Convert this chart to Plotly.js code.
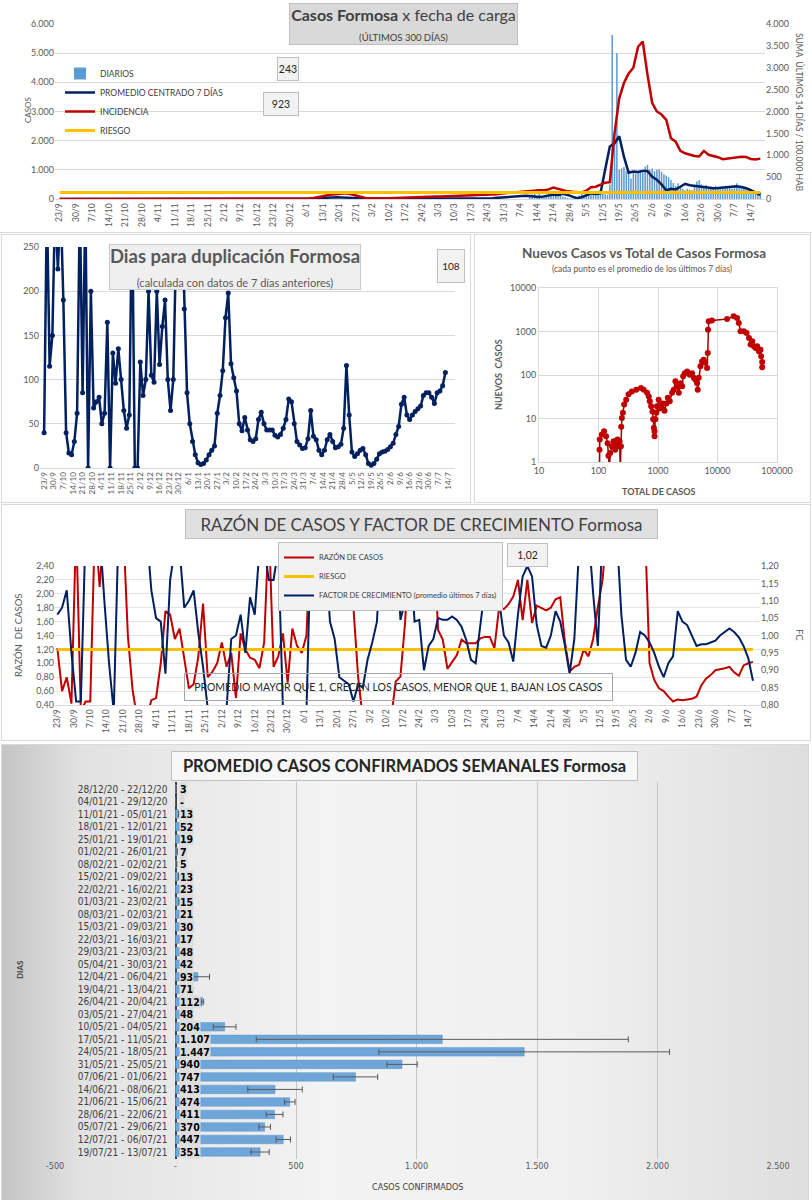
<!DOCTYPE html>
<html><head><meta charset="utf-8">
<script src="https://cdn.plot.ly/plotly-3.0.1.min.js"></script>
<style>
body{margin:0;width:812px;height:1200px;background:#fff;position:relative;overflow:hidden;font-family:Lato,sans-serif}
.p{position:absolute;outline:1px solid #d9d9d9;}
#c1{left:0;top:0;width:812px;height:232px}
#c2{left:2px;top:235px;width:468px;height:267px}
#c3{left:475px;top:235px;width:335px;height:267px}
#c4{left:2px;top:505px;width:808px;height:235px}
#c5{left:2px;top:745px;width:806px;height:455px;background:linear-gradient(90deg,#c4c4c4 0%,#e2e2e2 10%,#f3f3f3 40%,#f0f0f0 70%,#dedede 100%)}
</style></head>
<body>
<div id="c1" class="p"></div>
<div id="c2" class="p"></div>
<div id="c3" class="p"></div>
<div id="c4" class="p"></div>
<div id="c5" class="p"></div>
<script>
// ---------- DATA ----------
// Chart 1: every 2 days from 23/9/2020 (left axis: promedio; right axis: incidencia)
const promedio7 = [0,0,0,0,0,0,0,0,0,0,0,0,0,0,0,0,0,0,0,0,0,0,0,0,0,0,0,0,0,0,0,0,0,0,0,0,0,0,0,0,0,0,0,0,0,0,0,0,0,0,0,0,0,
 5,15,30,40,50,55,60,55,45,30,15,5,5,5,5,5,8,10,10,10,10,12,12,12,15,15,15,15,18,20,20,20,20,20,22,25,25,20,25,30,
 40,50,60,80,100,110,110,100,80,70,90,120,150,130,180,140,80,30,60,130,190,175,190,1000,1800,1910,2150,1450,900,940,
 930,960,960,765,660,500,300,350,330,420,520,470,445,425,410,390,370,380,400,420,440,440,410,370,300,230,140];
const incidencia = [0,0,0,0,0,0,0,0,0,0,0,0,0,0,0,0,0,0,0,0,0,0,0,0,0,0,0,0,0,0,0,0,0,0,0,0,0,0,0,0,0,0,0,0,0,0,0,0,0,0,0,0,0,
 10,25,50,70,85,100,115,125,130,110,80,50,25,15,10,10,15,20,25,30,35,38,40,42,45,50,52,55,58,60,65,70,72,75,80,85,90,92,95,100,
 110,125,135,140,150,165,180,190,195,200,200,220,260,230,205,175,165,155,150,190,270,280,330,373,385,1500,2300,2650,2870,3000,
 3480,3600,2850,2200,2000,1930,1810,1390,1310,1100,1045,1010,985,975,1100,1010,990,955,910,925,935,940,965,960,915,905,923];
// daily cases from 10/4/2021
const diarios = [120,150,300,80,200,100,130,90,150,110,180,100,60,150,90,60,40,30,20,80,
 50,120,200,150,250,180,150,260,200,180,300,250,200,150,500,5620,2300,5000,1000,1050,
 1100,950,1000,700,900,880,950,1000,900,1110,1170,1000,1050,950,1000,1020,940,850,800,750,
 650,550,450,540,420,350,300,350,320,300,450,600,650,500,450,480,400,420,380,450,
 400,380,350,420,380,400,350,420,540,400,380,420,350,300,330,250,200,150,243];
const riesgoIncidencia = 150;

// Chart 2: días para duplicación, every 2 days from 23/9/2020
const diasDuplicacion = [40,300,115,150,300,225,300,190,40,17,15,30,62,300,85,300,0,200,68,75,
 80,50,62,165,0,130,96,135,100,65,45,60,300,0,0,120,82,100,200,105,
 97,200,117,160,190,100,65,100,250,300,300,180,85,50,30,15,6,4,5,9,
 15,20,25,62,82,110,170,198,118,102,87,50,42,57,43,32,30,33,55,63,
 50,43,43,43,37,35,38,45,55,78,75,50,30,26,22,23,33,65,36,32,
 20,15,20,32,38,30,23,24,27,45,116,60,18,13,16,20,22,15,5,3,
 5,10,16,18,19,21,24,28,38,47,72,80,60,55,60,64,67,70,82,85,
 85,80,73,85,87,93,108];

// Chart 3: nuevos casos vs total de casos
const totalCasos = [104,104,105,114,124,134,142,147,153,157,168,179,191,198,209,217,226,233,238,241,
 247,257,270,292,320,363,431,518,575,655,700,728,766,807,830,852,874,874,902,937,
 960,1025,1065,1120,1215,1285,1380,1460,1575,1725,1840,1960,2100,2240,2390,2545,2650,2825,3090,3420,
 3740,3990,4250,4530,4650,4840,5160,5500,5860,6250,6670,6850,6930,7110,8080,14500,18700,21300,22800,24400,
 27700,30800,33800,36000,38400,40900,43600,46500,49600,52800,54200,56300,56300];
const nuevosCasos = [0.5,1.9,3.3,4.3,5.1,3.9,2.7,1.4,0.6,1.6,2.3,3.0,1.9,2.7,3.3,2.3,3.0,0.6,2.3,6.5,
 10.3,13.6,21,27,36,42,46,50,46,39,32,25,19,14.5,9.6,6.1,3.9,5.1,9.6,13.6,
 19,27,17,19,22,15,22,30,25,39,46,72,55,39,65,55,93,110,121,101,
 110,86,78,65,46,86,158,205,225,190,145,320,1100,1710,1800,1940,2230,2050,1570,1010,
 1010,925,710,500,595,460,420,460,350,380,270,200,150];
const xTicksLog = [10,100,1000,10000,100000];
const yTicksLog = [1,10,100,1000,10000];

// Chart 4: razón de casos & factor de crecimiento, every 2 days from 23/9/2020
const razonCasos = [1.22,0.60,0.80,0.42,3.0,0.3,0.45,0.45,3.0,2.1,3.0,3.0,3.0,3.0,3.0,1.4,0.62,0.2,0.2,0.2,
 0.47,0.5,1.0,1.75,1.7,1.35,1.5,1.05,0.64,0.7,1.1,1.86,0.8,0.88,1.0,1.3,0.95,1.15,0.5,1.43,
 1.2,1.08,1.05,0.93,1.3,3.0,0.95,1.1,1.43,0.72,1.5,1.25,1.15,1.4,3.0,3.0,3.0,3.0,3.0,3.0,
 3.0,3.0,3.0,1.8,0.8,0.2,0.2,0.2,0.2,0.2,0.2,0.2,0.74,0.81,1.6,3.0,3.0,3.0,3.0,3.0,
 3.0,1.48,1.34,0.92,1.02,1.12,1.34,1.29,1.29,1.29,1.36,1.38,1.38,1.22,1.81,1.78,1.85,1.96,2.2,1.62,
 2.2,1.58,1.83,1.8,1.76,1.8,1.92,1.95,1.3,0.88,0.95,0.98,1.2,1.1,1.35,1.81,2.2,3.0,3.0,3.0,
 3.0,3.0,3.0,3.0,3.0,3.0,1.0,0.76,0.64,0.6,0.52,0.45,0.48,0.47,0.48,0.49,0.52,0.68,0.78,0.83,
 0.9,0.91,0.93,0.95,0.87,0.82,0.97,1.0,1.02];
const factorCrecimiento = [1.06,1.08,1.13,0.95,0.81,0.81,1.3,1.3,1.3,1.3,1.1,0.92,0.78,1.3,1.3,1.3,1.3,1.3,1.3,1.3,
 1.13,1.05,1.04,0.89,1.16,1.25,1.25,1.08,1.1,1.13,1.006,0.91,0.79,0.78,0.78,0.78,0.79,0.99,1.0,1.06,
 0.95,1.11,1.06,1.25,1.25,1.16,1.16,1.25,0.79,0.78,0.78,0.78,0.78,0.78,1.3,1.3,1.3,1.25,1.04,0.99,
 0.88,0.87,0.86,0.81,0.86,0.85,0.93,0.98,1.04,1.3,1.3,1.3,1.3,1.045,1.1,1.25,1.04,1.045,0.9,0.97,
 0.99,1.05,1.045,1.045,1.055,1.045,1.025,0.987,0.93,0.92,1.03,1.14,1.3,1.2,1.09,1.0,0.98,0.925,1.06,1.17,
 1.2,1.17,1.03,0.97,0.965,1.0,1.07,1.04,0.97,0.89,0.99,1.25,1.3,1.3,1.12,0.97,1.3,1.3,1.3,1.3,
 1.06,0.93,0.91,0.95,1.01,1.0,0.98,0.95,0.91,0.88,0.92,0.94,1.07,1.04,1.03,1.0,0.97,0.975,0.975,0.98,
 0.985,1.0,1.01,1.02,1.01,0.995,0.97,0.935,0.87];
const riesgoRazon = 1.2;

// Chart 5: promedio semanal
const semanas = ["28/12/20 - 22/12/20","04/01/21 - 29/12/20","11/01/21 - 05/01/21","18/01/21 - 12/01/21","25/01/21 - 19/01/21",
 "01/02/21 - 26/01/21","08/02/21 - 02/02/21","15/02/21 - 09/02/21","22/02/21 - 16/02/21","01/03/21 - 23/02/21",
 "08/03/21 - 02/03/21","15/03/21 - 09/03/21","22/03/21 - 16/03/21","29/03/21 - 23/03/21","05/04/21 - 30/03/21",
 "12/04/21 - 06/04/21","19/04/21 - 13/04/21","26/04/21 - 20/04/21","03/05/21 - 27/04/21","10/05/21 - 04/05/21",
 "17/05/21 - 11/05/21","24/05/21 - 18/05/21","31/05/21 - 25/05/21","07/06/21 - 01/06/21","14/06/21 - 08/06/21",
 "21/06/21 - 15/06/21","28/06/21 - 22/06/21","05/07/21 - 29/06/21","12/07/21 - 06/07/21","19/07/21 - 13/07/21"];
const promedioSemanal = [3,0,13,52,19,7,5,13,23,15,21,30,17,48,42,93,71,112,48,204,1107,1447,940,747,413,474,411,370,447,351];
const errorSemanal = [null,null,null,null,null,null,null,null,null,null,null,null,null,null,null,48,null,5,null,47,772,603,63,92,113,22,35,24,30,38];
const xTicksSem = [-500,0,500,1000,1500,2000,2500];
const xTextSem = ['-500','-','500','1.000','1.500','2.000','2.500'];

// ---------- HELPERS ----------
const BASE = Date.UTC(2020,8,23);
function dayDates(start,n,step){const o=[];for(let i=0;i<n;i++){o.push(new Date(BASE+(start+i*step)*864e5).toISOString().slice(0,10));}return o;}
function P(W,H,m){return {x:v=>(v-m.l)/(W-m.l-m.r), y:v=>(H-m.b-v)/(H-m.t-m.b)};}
const FONT='Lato, "Open Sans", sans-serif';
const NARROW='"Liberation Sans Narrow", "DejaVu Sans Condensed", Lato, sans-serif';
const GRAY='#595959';
function ann(p,cx,cy,text,o){return Object.assign({xref:'paper',yref:'paper',x:p.x(cx),y:p.y(cy),xanchor:'center',yanchor:'middle',text:text,showarrow:false,font:{family:FONT,size:10,color:'#262626'}},o||{});}
function box(p,cx,cy,w,h,text,o){return ann(p,cx,cy,text,Object.assign({width:w,height:h,bgcolor:'#f2f2f2',bordercolor:'#bfbfbf',borderwidth:1,borderpad:0},o||{}));}
function fmtMiles(v){return v===0?'-':String(v).replace(/\B(?=(\d{3})+(?!\d))/g,'.');}
const cfg={staticPlot:true,displayModeBar:false};
const WEEK=7*864e5;
function dateAxis(r){return {type:'date',range:r,tick0:'2020-09-23',dtick:WEEK,tickformat:'%-d/%-m',tickangle:-90,
  tickfont:{family:FONT,size:8.5,color:GRAY},showgrid:false,showline:true,linecolor:'#d9d9d9',ticks:'',zeroline:false};}

// ---------- CHART 1 ----------
(function(){
 const W=812,H=232,m={l:55,r:47,t:24,b:33},p=P(W,H,m);
 const d2=dayDates(0,incidencia.length,2);
 const traces=[
  {type:'bar',x:dayDates(200,diarios.length,1),y:diarios,name:'DIARIOS',marker:{color:'#5b9bd5'},yaxis:'y'},
  {type:'scatter',mode:'lines',x:dayDates(0,promedio7.length,2),y:promedio7,name:'PROMEDIO CENTRADO 7 DÍAS',line:{color:'#002060',width:2.5}},
  {type:'scatter',mode:'lines',x:d2,y:incidencia,name:'INCIDENCIA',yaxis:'y2',line:{color:'#c00000',width:2.5}},
  {type:'scatter',mode:'lines',x:[d2[0],d2[d2.length-1]],y:[riesgoIncidencia,riesgoIncidencia],name:'RIESGO',yaxis:'y2',line:{color:'#ffc000',width:3}}
 ];
 const layout={width:W,height:H,margin:m,paper_bgcolor:'rgba(0,0,0,0)',plot_bgcolor:'rgba(0,0,0,0)',separators:',.',
  font:{family:FONT},bargap:0.35,
  xaxis:dateAxis(['2020-09-21','2021-07-20']),
  yaxis:{range:[0,6000],dtick:1000,tickformat:',d',gridcolor:'#d9d9d9',zeroline:false,tickfont:{family:FONT,size:9,color:GRAY}},
  yaxis2:{range:[0,4000],dtick:500,tickformat:',d',overlaying:'y',side:'right',showgrid:false,zeroline:false,tickfont:{family:FONT,size:9,color:GRAY}},
  showlegend:true,
  legend:{x:p.x(60),y:p.y(59),xanchor:'left',yanchor:'top',bgcolor:'rgba(0,0,0,0)',itemwidth:30,font:{family:FONT,size:8.5,color:'#404040'},tracegroupgap:2},
  annotations:[
   box(p,403.5,24,227,40,'<b>Casos Formosa</b> x fecha de carga<br><span style="font-size:9.5px">(ÚLTIMOS 300 DÍAS)</span>',{bgcolor:'#d9d9d9',bordercolor:'#bfbfbf',font:{family:FONT,size:16,color:'#404040'}}),
   box(p,288,69,20,22,String(diarios[diarios.length-1]),{font:{family:FONT,size:10.5,color:'#262626'}}),
   box(p,281,104,34,22,String(incidencia[incidencia.length-1]),{font:{family:FONT,size:10.5,color:'#262626'}}),
   ann(p,28,110,'CASOS',{textangle:-90,font:{family:FONT,size:8,color:GRAY}}),
   ann(p,800,112,'SUMA  ÚLTIMOS 14 DÍAS / 100.000 HAB',{textangle:90,font:{family:FONT,size:8.5,color:GRAY}})
  ]};
 Plotly.newPlot('c1',traces,layout,cfg);
})();

// ---------- CHART 2 ----------
(function(){
 const W=468,H=267,m={l:38,r:15,t:12,b:34},p=P(W,H,m);
 const traces=[{type:'scatter',mode:'lines+markers',x:dayDates(0,diasDuplicacion.length,2),y:diasDuplicacion,name:'Días',
   line:{color:'#002060',width:2.5},marker:{color:'#002060',size:5}}];
 const layout={width:W,height:H,margin:m,paper_bgcolor:'rgba(0,0,0,0)',plot_bgcolor:'rgba(0,0,0,0)',showlegend:false,font:{family:FONT},
  xaxis:Object.assign(dateAxis(['2020-09-20','2021-07-19']),{tickfont:{family:FONT,size:8,color:GRAY}}),
  yaxis:{range:[0,250],dtick:50,gridcolor:'#d9d9d9',zeroline:false,tickfont:{family:FONT,size:9,color:GRAY}},
  annotations:[
   box(p,233,32,250,44,'<b>Dias para duplicación Formosa</b><br><span style="font-size:11px">(calculada con datos de 7 días anteriores)</span>',{bgcolor:'#efefef',bordercolor:'#c9c9c9',font:{family:FONT,size:18.5,color:GRAY}}),
   box(p,449,31,26,32,String(diasDuplicacion[diasDuplicacion.length-1]),{font:{family:FONT,size:10,color:'#262626'}})
  ]};
 Plotly.newPlot('c2',traces,layout,cfg);
})();

// ---------- CHART 3 ----------
(function(){
 const W=335,H=267,m={l:64,r:33,t:53,b:40},p=P(W,H,m);
 const traces=[{type:'scatter',mode:'lines+markers',x:totalCasos,y:nuevosCasos,name:'Nuevos casos',
   line:{color:'#a00000',width:1.5},marker:{color:'#c00000',size:6}}];
 const ax={gridcolor:'#d9d9d9',showline:true,mirror:true,linecolor:'#d9d9d9',zeroline:false,tickfont:{family:FONT,size:9,color:GRAY},ticks:''};
 const layout={width:W,height:H,margin:m,paper_bgcolor:'rgba(0,0,0,0)',plot_bgcolor:'rgba(0,0,0,0)',showlegend:false,font:{family:FONT},
  xaxis:Object.assign({type:'log',range:[1,5],tickvals:xTicksLog,ticktext:xTicksLog.map(String)},ax),
  yaxis:Object.assign({type:'log',range:[0,4],tickvals:yTicksLog,ticktext:yTicksLog.map(String)},ax),
  annotations:[
   ann(p,169,18,'<b>Nuevos Casos vs Total de Casos Formosa</b>',{font:{family:FONT,size:13.5,color:GRAY}}),
   ann(p,167,34,'(cada punto es el promedio de los últimos 7 días)',{font:{family:FONT,size:8.5,color:GRAY}}),
   ann(p,183,256,'<b>TOTAL DE CASOS</b>',{font:{family:FONT,size:9,color:GRAY}}),
   ann(p,23,140,'<b>NUEVOS  CASOS</b>',{textangle:-90,font:{family:FONT,size:9,color:GRAY}})
  ]};
 Plotly.newPlot('c3',traces,layout,cfg);
})();

// ---------- CHART 4 ----------
(function(){
 const W=808,H=235,m={l:53,r:50,t:61,b:35},p=P(W,H,m);
 const d=dayDates(0,razonCasos.length,2);
 const traces=[
  {type:'scatter',mode:'lines',x:d,y:razonCasos,name:'RAZÓN DE CASOS',line:{color:'#c00000',width:2},legendrank:1},
  {type:'scatter',mode:'lines',x:dayDates(0,factorCrecimiento.length,2),y:factorCrecimiento,yaxis:'y2',name:'FACTOR DE CRECIMIENTO (promedio últimos 7 días)',line:{color:'#002060',width:2},legendrank:3},
  {type:'scatter',mode:'lines',x:[d[0],d[d.length-1]],y:[riesgoRazon,riesgoRazon],name:'RIESGO',line:{color:'#ffc000',width:3},legendrank:2}
 ];
 const tf={family:FONT,size:9,color:GRAY};
 const layout={width:W,height:H,margin:m,paper_bgcolor:'rgba(0,0,0,0)',plot_bgcolor:'rgba(0,0,0,0)',separators:',.',font:{family:FONT},
  xaxis:dateAxis(['2020-09-22','2021-07-19']),
  yaxis:{range:[0.4,2.4],dtick:0.2,tickformat:'.2f',gridcolor:'#e3e3e3',zeroline:false,tickfont:tf},
  yaxis2:{range:[0.8,1.2],dtick:0.05,tickformat:'.2f',overlaying:'y',side:'right',showgrid:false,zeroline:false,tickfont:tf},
  showlegend:true,
  legend:{x:p.x(276),y:p.y(37),xanchor:'left',yanchor:'top',bgcolor:'#f2f2f2',bordercolor:'#bfbfbf',borderwidth:1,itemwidth:30,font:{family:FONT,size:7.5,color:'#404040'},traceorder:'normal'},
  annotations:[
   box(p,419.5,19,471,28,'RAZÓN DE CASOS Y FACTOR DE CRECIMIENTO Formosa',{bgcolor:'#e0e0e0',bordercolor:'#bfbfbf',font:{family:FONT,size:17,color:'#404040'}}),
   box(p,525.5,50,39,22,String(razonCasos[razonCasos.length-1].toFixed(2)).replace('.',','),{font:{family:FONT,size:10.5,color:'#262626'}}),
   box(p,396.5,182,427,26,'PROMEDIO MAYOR QUE 1, CRECEN LOS CASOS, MENOR QUE 1, BAJAN LOS CASOS',{bgcolor:'rgba(255,255,255,0)',bordercolor:'#a6a6a6',font:{family:FONT,size:10.5,color:'#262626'}}),
   ann(p,16,130,'RAZÓN  DE CASOS',{textangle:-90,font:{family:FONT,size:9.5,color:GRAY}}),
   ann(p,798,130,'FC',{textangle:90,font:{family:FONT,size:9.5,color:GRAY}})
  ]};
 Plotly.newPlot('c4',traces,layout,cfg);
})();

// ---------- CHART 5 ----------
(function(){
 const W=806,H=455,m={l:53,r:30,t:37,b:41},p=P(W,H,m);
 const xr=[-500,2500];
 const traces=[{type:'bar',orientation:'h',y:semanas,x:promedioSemanal,name:'Promedio',
   marker:{color:'#6fa6da',line:{color:'#5b93c9',width:0.5}},
   error_x:{type:'data',array:errorSemanal,color:'#595959',thickness:1,width:3}}];
 const labels=semanas.map((s,i)=>({x:0,y:s,xref:'x',yref:'y',xanchor:'left',yanchor:'middle',xshift:3,showarrow:false,
   text:'<b>'+fmtMiles(promedioSemanal[i])+'</b>',bgcolor:'#dcdcdc',borderpad:0,font:{family:NARROW,size:10.5,color:'#000'}}));
 const layout={width:W,height:H,margin:m,paper_bgcolor:'rgba(0,0,0,0)',plot_bgcolor:'rgba(0,0,0,0)',showlegend:false,font:{family:FONT},
  bargap:0.32,
  xaxis:{range:xr,tickvals:xTicksSem,ticktext:xTextSem,gridcolor:'#c6c6c6',zeroline:true,zerolinecolor:'#404040',zerolinewidth:2,
    tickfont:{family:NARROW,size:9,color:GRAY},ticks:''},
  yaxis:{type:'category',autorange:'reversed',showgrid:false,anchor:'free',position:(0-xr[0])/(xr[1]-xr[0]),
    tickmode:'array',tickvals:semanas,ticktext:semanas,
    tickfont:{family:NARROW,size:10,color:'#404040'},ticklabelstandoff:8,ticks:''},
  annotations:labels.concat([
   box(p,402.5,21,465,28,'<b>PROMEDIO CASOS CONFIRMADOS SEMANALES Formosa</b>',{bgcolor:'#f7f7f7',bordercolor:'#bfbfbf',font:{family:FONT,size:16.5,color:'#262626'}}),
   ann(p,415,442,'CASOS CONFIRMADOS',{font:{family:NARROW,size:9,color:'#404040'}}),
   ann(p,18,225,'<b>DIAS</b>',{textangle:-90,font:{family:FONT,size:8,color:'#404040'}})
  ])};
 Plotly.newPlot('c5',traces,layout,cfg);
})();
</script>
</body></html>
